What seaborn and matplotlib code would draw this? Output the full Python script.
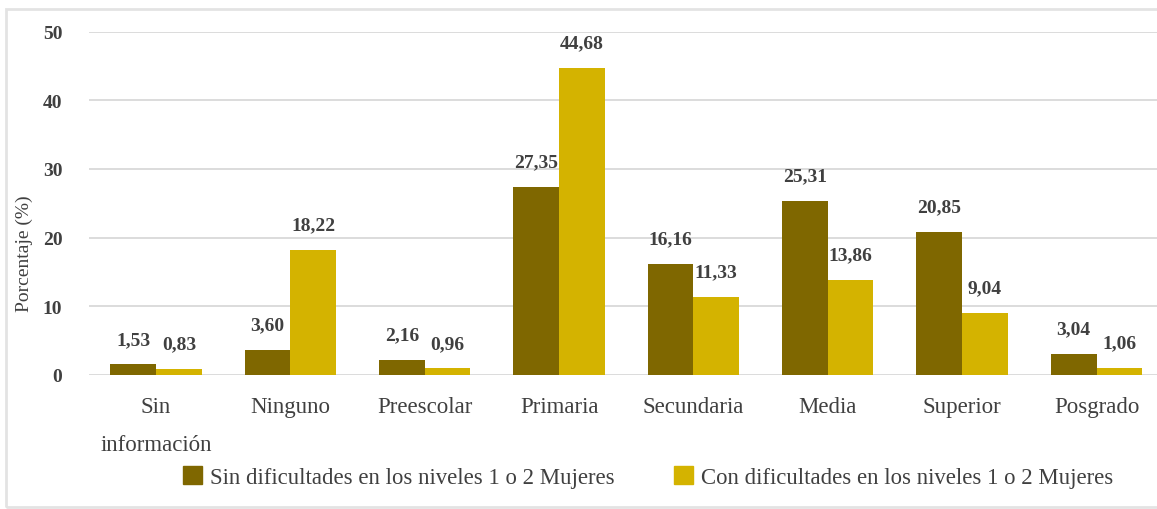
import matplotlib
matplotlib.use("Agg")
import matplotlib.pyplot as plt
from matplotlib.patches import Rectangle
import seaborn as sns
import pandas as pd

# Nivel educativo por condición de dificultad (mujeres)
categorias = ["Sin\ninformación", "Ninguno", "Preescolar", "Primaria",
              "Secundaria", "Media", "Superior", "Posgrado"]
sin_dificultad = [1.53, 3.60, 2.16, 27.35, 16.16, 25.31, 20.85, 3.04]
con_dificultad = [0.83, 18.22, 0.96, 44.68, 11.33, 13.86, 9.04, 1.06]
series = ["Sin dificultades en los niveles 1 o 2 Mujeres",
          "Con dificultades en los niveles 1 o 2 Mujeres"]
colores = ["#7F6700", "#D4B300"]
y_ticks = [0, 10, 20, 30, 40, 50]

df = pd.DataFrame({
    "Nivel": categorias * 2,
    "Serie": [series[0]] * len(categorias) + [series[1]] * len(categorias),
    "Porcentaje": sin_dificultad + con_dificultad,
})

sns.set_theme(style="white")
plt.rcParams["font.family"] = ["Liberation Serif", "DejaVu Serif"]

W, H = 1157, 510
fig = plt.figure(figsize=(W / 100, H / 100), dpi=100)
ax_w = W - 88.8
ax = fig.add_axes([88.8 / W, (H - 376) / H, ax_w / W, (376 - 32.5) / H])

sns.barplot(data=df, x="Nivel", y="Porcentaje", hue="Serie",
            palette=colores, width=0.68, saturation=1, ax=ax,
            legend=False, errorbar=None, linewidth=0)

texto = "#404040"
for cont, vals in zip(ax.containers, [sin_dificultad, con_dificultad]):
    etiquetas = [f"{v:.2f}".replace(".", ",") for v in vals]
    ax.bar_label(cont, labels=etiquetas, padding=12, fontsize=14,
                 fontweight="bold", color=texto)

ax.set_xlim(-0.5, 7.45)
ax.set_ylim(0, 50)
ax.set_yticks(y_ticks)
ax.grid(axis="y", color="#d9d9d9", linewidth=1.3)
ax.set_axisbelow(True)
for s in ax.spines.values():
    s.set_visible(False)
ax.tick_params(axis="both", length=0)
ax.tick_params(axis="x", pad=15)
ax.tick_params(axis="y", pad=19)
for lbl in ax.get_xticklabels():
    lbl.set_fontsize(16.5)
    lbl.set_color(texto)
    lbl.set_linespacing(2.1)
for lbl in ax.get_yticklabels():
    lbl.set_fontsize(14)
    lbl.set_color(texto)
    lbl.set_fontweight("bold")
ax.set_xlabel("")
ax.set_ylabel("Porcentaje (%)", fontsize=14, color=texto)
ax.yaxis.set_label_coords(-55.8 / ax_w, 0.355)

handles = [Rectangle((0, 0), 1, 1, color=c) for c in colores]
fig.legend(handles, series, loc="center", bbox_to_anchor=(648 / W, 1 - 478 / H),
           ncol=2, frameon=False, fontsize=16.4, handlelength=0.85,
           handleheight=0.85, handletextpad=0.35, columnspacing=2.6,
           labelcolor=texto)

fig.patches.append(Rectangle((6 / W, 2 / H), 1.2, 1 - 12 / H,
                             transform=fig.transFigure, fill=False,
                             edgecolor="#e3e3e3", linewidth=2))

fig.savefig("out.png", dpi=100)
